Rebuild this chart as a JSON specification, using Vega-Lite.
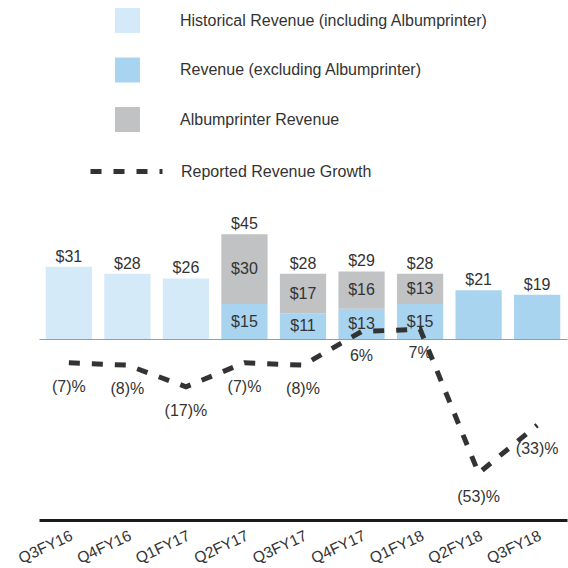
{
  "$schema": "https://vega.github.io/schema/vega-lite/v6.json",
  "width": 528,
  "height": 320,
  "autosize": {"type": "none"},
  "padding": {"left": 39, "top": 200, "right": 1, "bottom": 48},
  "background": "white",
  "config": {"view": {"stroke": null}, "font": "Liberation Sans"},
  "datasets": {
    "bars": [
      {"quarter": "Q3FY16", "series": "Historical Revenue (including Albumprinter)", "value": 31},
      {"quarter": "Q4FY16", "series": "Historical Revenue (including Albumprinter)", "value": 28},
      {"quarter": "Q1FY17", "series": "Historical Revenue (including Albumprinter)", "value": 26},
      {"quarter": "Q2FY17", "series": "Revenue (excluding Albumprinter)", "value": 15},
      {"quarter": "Q2FY17", "series": "Albumprinter Revenue", "value": 30},
      {"quarter": "Q3FY17", "series": "Revenue (excluding Albumprinter)", "value": 11},
      {"quarter": "Q3FY17", "series": "Albumprinter Revenue", "value": 17},
      {"quarter": "Q4FY17", "series": "Revenue (excluding Albumprinter)", "value": 13},
      {"quarter": "Q4FY17", "series": "Albumprinter Revenue", "value": 16},
      {"quarter": "Q1FY18", "series": "Revenue (excluding Albumprinter)", "value": 15},
      {"quarter": "Q1FY18", "series": "Albumprinter Revenue", "value": 13},
      {"quarter": "Q2FY18", "series": "Revenue (excluding Albumprinter)", "value": 21},
      {"quarter": "Q3FY18", "series": "Revenue (excluding Albumprinter)", "value": 19}
    ],
    "growth": [
      {"quarter": "Q3FY16", "growth": -7},
      {"quarter": "Q4FY16", "growth": -8},
      {"quarter": "Q1FY17", "growth": -17},
      {"quarter": "Q2FY17", "growth": -7},
      {"quarter": "Q3FY17", "growth": -8},
      {"quarter": "Q4FY17", "growth": 6},
      {"quarter": "Q1FY18", "growth": 7},
      {"quarter": "Q2FY18", "growth": -53},
      {"quarter": "Q3FY18", "growth": -33}
    ]
  },
  "encoding": {
    "x": {
      "field": "quarter",
      "type": "nominal",
      "sort": ["Q3FY16", "Q4FY16", "Q1FY17", "Q2FY17", "Q3FY17", "Q4FY17", "Q1FY18", "Q2FY18", "Q3FY18"],
      "scale": {"paddingInner": 0.21, "paddingOuter": 0.115},
      "title": null,
      "axis": {
        "domainColor": "#1a1a1a",
        "domainWidth": 3,
        "ticks": false,
        "labelAngle": -25,
        "labelAlign": "right",
        "labelBaseline": "top",
        "labelPadding": 8,
        "labelFontSize": 15.5,
        "labelColor": "#333333",
        "labelFont": "Liberation Sans"
      }
    }
  },
  "layer": [
    {
      "data": {"name": "bars"},
      "mark": {"type": "bar"},
      "encoding": {
        "y": {
          "field": "value",
          "type": "quantitative",
          "stack": "zero",
          "scale": {"domain": [-77.7, 59.7], "nice": false, "zero": false},
          "axis": {"values": [0], "grid": true, "gridColor": "#a09a94", "gridWidth": 1, "domain": false, "ticks": false, "labels": false, "title": null}
        },
        "color": {
          "field": "series",
          "type": "nominal",
          "scale": {
            "domain": ["Historical Revenue (including Albumprinter)", "Revenue (excluding Albumprinter)", "Albumprinter Revenue"],
            "range": ["#d5eaf8", "#a8d4f0", "#c0c2c3"]
          },
          "legend": {
            "orient": "none",
            "legendX": 76,
            "legendY": -192,
            "title": null,
            "padding": 0,
            "symbolType": "square",
            "symbolSize": 625,
            "symbolStrokeWidth": 0,
            "symbolOpacity": 1,
            "labelFontSize": 16,
            "labelColor": "#333333",
            "labelFont": "Liberation Sans",
            "labelOffset": 40,
            "labelLimit": 400,
            "rowPadding": 24.5
          }
        },
        "order": {"field": "series", "sort": "descending"}
      }
    },
    {
      "data": {"name": "bars"},
      "transform": [
        {"joinaggregate": [{"op": "count", "as": "n"}], "groupby": ["quarter"]},
        {"filter": "datum.n > 1"},
        {"stack": "value", "groupby": ["quarter"], "sort": [{"field": "series", "order": "descending"}], "as": ["v0", "v1"]},
        {"calculate": "(datum.v0 + datum.v1) / 2", "as": "mid"},
        {"calculate": "'$' + datum.value", "as": "label"}
      ],
      "mark": {"type": "text", "fontSize": 16, "color": "#333333", "baseline": "middle", "font": "Liberation Sans"},
      "encoding": {
        "y": {"field": "mid", "type": "quantitative", "scale": {"domain": [-77.7, 59.7], "nice": false, "zero": false}, "axis": null},
        "text": {"field": "label"}
      }
    },
    {
      "data": {"name": "bars"},
      "transform": [
        {"aggregate": [{"op": "sum", "field": "value", "as": "total"}], "groupby": ["quarter"]},
        {"calculate": "'$' + datum.total", "as": "label"}
      ],
      "mark": {"type": "text", "fontSize": 16, "color": "#333333", "baseline": "alphabetic", "dy": -5, "font": "Liberation Sans"},
      "encoding": {
        "y": {"field": "total", "type": "quantitative", "scale": {"domain": [-77.7, 59.7], "nice": false, "zero": false}, "axis": null},
        "text": {"field": "label"}
      }
    },
    {
      "data": {"name": "growth"},
      "mark": {"type": "line", "strokeWidth": 5, "color": "#333333"},
      "encoding": {
        "y": {"field": "growth", "type": "quantitative", "scale": {"domain": [-72.5, 60.8], "nice": false, "zero": false}, "axis": null},
        "strokeDash": {
          "datum": "Reported Revenue Growth",
          "type": "nominal",
          "scale": {"range": [[11, 12]]},
          "legend": {
            "orient": "none",
            "legendX": 49,
            "legendY": -67,
            "title": null,
            "padding": 0,
            "symbolType": "stroke",
            "symbolSize": 5184,
            "symbolStrokeWidth": 5,
            "symbolStrokeColor": "#333333",
            "labelFontSize": 16,
            "labelColor": "#333333",
            "labelFont": "Liberation Sans",
            "labelOffset": 16,
            "labelLimit": 400,
            "encode": {"symbols": {"update": {"strokeDash": {"value": [12, 18]}}}}
          }
        }
      }
    },
    {
      "data": {"name": "growth"},
      "transform": [
        {"calculate": "datum.growth < 0 ? '(' + (-datum.growth) + ')%' : datum.growth + '%'", "as": "label"}
      ],
      "mark": {"type": "text", "fontSize": 16, "color": "#333333", "baseline": "middle", "dy": 24, "font": "Liberation Sans"},
      "encoding": {
        "y": {"field": "growth", "type": "quantitative", "scale": {"domain": [-72.5, 60.8], "nice": false, "zero": false}, "axis": null},
        "text": {"field": "label"}
      }
    }
  ],
  "resolve": {"scale": {"y": "independent"}}
}
